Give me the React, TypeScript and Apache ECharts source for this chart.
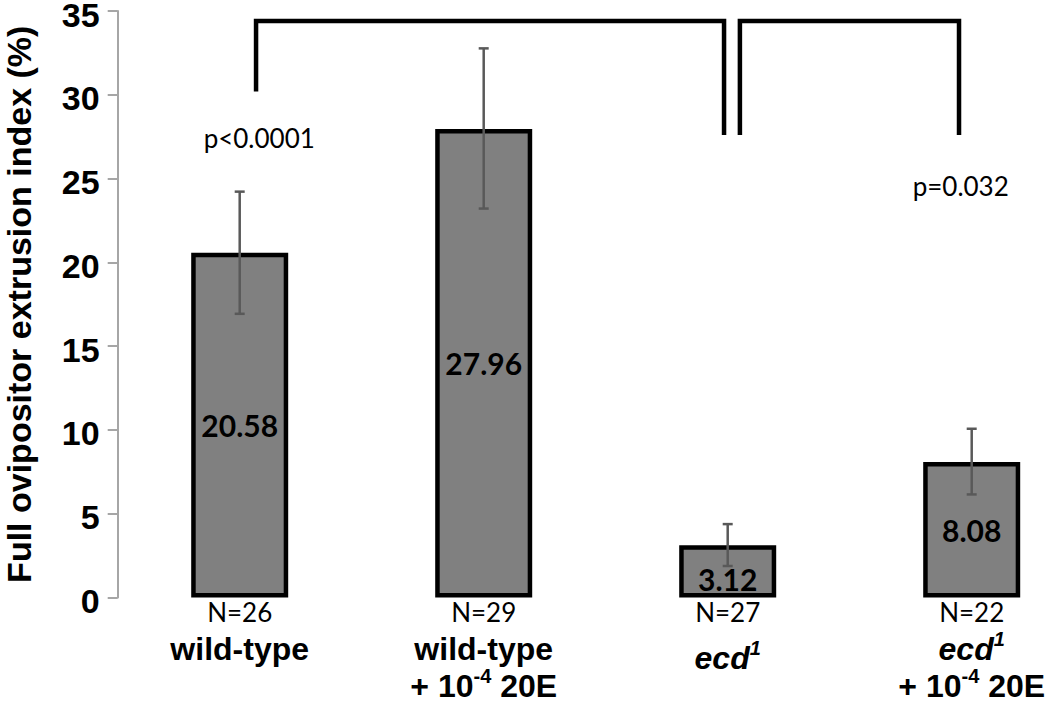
import React, { useEffect, useRef } from "react";
import * as echarts from "echarts";

// ---- data ----
const categories = ["wild-type", "wild-type + 10-4 20E", "ecd1", "ecd1 + 10-4 20E"];
const nLabels = ["N=26", "N=29", "N=27", "N=22"];
const genotypes = ["wild-type", "wild-type", "ecd", "ecd"];
const genotypeSup = ["", "", "1", "1"];
const doseExp = ["", "-4", "", "-4"];
const values = [20.58, 27.96, 3.12, 8.08];
const errLow = [16.93, 23.21, 1.88, 6.15];
const errHigh = [24.22, 32.77, 4.38, 10.07];
const yMin = 0;
const yMax = 35;
const yStep = 5;
// brackets: [xStart, xEnd, top, leftFoot, rightFoot] (category units / %)
const brackets = [
  [0.067, 1.985, 34.4, 30.2, 27.6],
  [2.05, 2.948, 34.4, 27.6, 27.6],
];
const pTexts = ["p<0.0001", "p=0.032"];
const pAnchors = [
  [0.08, 27.4],
  [2.955, 24.55],
];

const AXIS_FONT = "'Liberation Sans', Arial, sans-serif";
const CAL_FONT = "Lato, 'Open Sans', sans-serif";

function xLabel(_v: string, i: number): string {
  const n = `{n|${nLabels[i]}}`;
  const italic = genotypeSup[i] !== "";
  const hasDose = doseExp[i] !== "";
  let g: string;
  if (italic) {
    const st = hasDose ? "d" : "c";
    g = `{${st}|${genotypes[i]}}{${st}s|${genotypeSup[i]}}`;
  } else {
    g = `{a|${genotypes[i]}}`;
  }
  let s = `${n}\n${g}`;
  if (hasDose) s += `\n{t|+ 10}{ts|${doseExp[i]}}{t| 20E}`;
  return s;
}

export default function App() {
  const ref = useRef<HTMLDivElement>(null);
  useEffect(() => {
    if (!ref.current) return;
    const chart = echarts.init(ref.current, undefined, { renderer: "svg" });
    const boldAxis = { fontFamily: AXIS_FONT, fontWeight: "bold" as const, fontSize: 32, color: "#000" };
    const option: any = {
      animation: false,
      backgroundColor: "#fff",
      grid: {
        left: 117.7,
        top: 11,
        width: 976,
        height: 586.5,
        containLabel: false,
        outerBoundsMode: "none",
      },
      xAxis: [
        {
          type: "category",
          data: categories,
          axisLine: { show: false },
          axisTick: { show: false },
          axisLabel: {
            interval: 0,
            margin: 0,
            formatter: xLabel,
            color: "#000",
            rich: {
              n: { fontFamily: CAL_FONT, fontSize: 26, color: "#000", lineHeight: 28 },
              a: { ...boldAxis, lineHeight: 47 },
              c: { ...boldAxis, fontStyle: "italic", lineHeight: 65 },
              cs: { ...boldAxis, fontStyle: "italic", fontSize: 20, lineHeight: 10, padding: [0, 0, 20, 0] },
              d: { ...boldAxis, fontStyle: "italic", lineHeight: 47 },
              ds: { ...boldAxis, fontStyle: "italic", fontSize: 20, lineHeight: 10, padding: [0, 0, 20, 0] },
              t: { ...boldAxis, lineHeight: 27 },
              ts: { ...boldAxis, fontSize: 20, lineHeight: 10, padding: [0, 0, 20, 0] },
            },
          },
        },
        { type: "value", min: -0.5, max: 3.5, show: false },
      ],
      yAxis: {
        type: "value",
        min: yMin,
        max: yMax,
        interval: yStep,
        name: "Full ovipositor extrusion index (%)",
        nameLocation: "middle",
        nameRotate: 90,
        nameGap: 82,
        nameTextStyle: { fontFamily: AXIS_FONT, fontWeight: "bold", fontSize: 34, color: "#000" },
        axisLine: { show: true, onZero: false, lineStyle: { color: "#a6a6a6", width: 2 } },
        axisTick: { show: true, inside: false, length: 10, lineStyle: { color: "#a6a6a6", width: 2 } },
        splitLine: { show: false },
        axisLabel: {
          margin: 18,
          formatter: (v: number) => `{v|${v}}`,
          rich: {
            v: {
              fontFamily: AXIS_FONT,
              fontWeight: "bold",
              fontSize: 34,
              color: "#000",
              lineHeight: 34,
              padding: [7, 0, 0, 0],
            },
          },
        },
      },
      series: [
        {
          type: "bar",
          xAxisIndex: 0,
          barWidth: 97,
          data: values.map((v) => ({
            value: v,
            label: v < 5 ? { position: "insideBottom", distance: 4 } : { position: "inside" },
          })),
          itemStyle: { color: "#808080", borderColor: "#000", borderWidth: 4.5 },
          label: {
            show: true,
            formatter: (p: any) => p.value.toFixed(2),
            fontFamily: CAL_FONT,
            fontWeight: "bold",
            fontSize: 30,
            color: "#000",
          },
        },
        {
          type: "custom",
          xAxisIndex: 0,
          z: 5,
          data: values.map((_, i) => [i, errLow[i], errHigh[i]]),
          encode: { x: 0, y: [1, 2] },
          renderItem: (_params: any, api: any) => {
            const x = api.value(0);
            const lo = api.coord([x, api.value(1)]);
            const hi = api.coord([x, api.value(2)]);
            const hw = 5;
            const style = { stroke: "#595959", lineWidth: 2.5 };
            return {
              type: "group",
              children: [
                { type: "line", shape: { x1: lo[0], y1: lo[1], x2: hi[0], y2: hi[1] }, style },
                { type: "line", shape: { x1: lo[0] - hw, y1: lo[1], x2: lo[0] + hw, y2: lo[1] }, style },
                { type: "line", shape: { x1: hi[0] - hw, y1: hi[1], x2: hi[0] + hw, y2: hi[1] }, style },
              ],
            };
          },
        },
        {
          type: "custom",
          xAxisIndex: 1,
          z: 6,
          clip: false,
          data: brackets,
          encode: { x: [0, 1], y: [2, 3, 4] },
          renderItem: (params: any, api: any) => {
            const x1 = api.value(0);
            const x2 = api.value(1);
            const top = api.value(2);
            const a = api.coord([x1, api.value(3)]);
            const b = api.coord([x1, top]);
            const c = api.coord([x2, top]);
            const d = api.coord([x2, api.value(4)]);
            const anchor = pAnchors[params.dataIndex];
            const tp = api.coord(anchor);
            return {
              type: "group",
              children: [
                {
                  type: "polyline",
                  shape: { points: [a, b, c, d] },
                  style: { stroke: "#000", lineWidth: 4.5, fill: null, lineJoin: "miter" },
                },
                {
                  type: "text",
                  x: tp[0],
                  y: tp[1],
                  style: {
                    text: pTexts[params.dataIndex],
                    fill: "#000",
                    fontSize: 26,
                    fontFamily: CAL_FONT,
                    align: "center",
                    verticalAlign: "middle",
                    textAlign: "center",
                    textVerticalAlign: "middle",
                  },
                },
              ],
            };
          },
        },
      ],
    };
    chart.setOption(option);
    return () => chart.dispose();
  }, []);
  return (
    <div
      ref={ref}
      style={{ position: "fixed", left: 0, top: 0, width: 1050, height: 705, background: "#fff" }}
    />
  );
}
